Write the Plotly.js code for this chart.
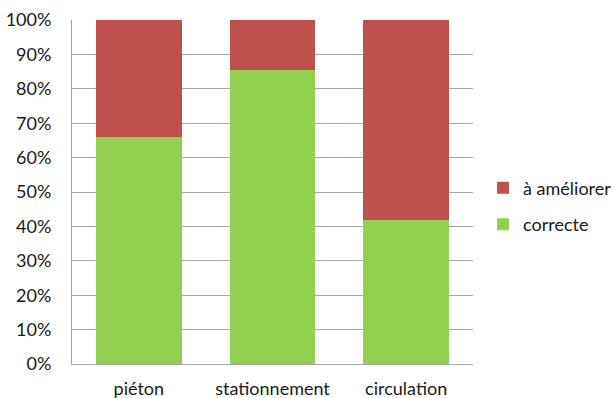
<!DOCTYPE html>
<html>
<head>
<meta charset="utf-8">
<script src="https://cdn.plot.ly/plotly-3.0.1.min.js"></script>
<style>
  html, body { margin: 0; padding: 0; background: #fff; }
  #chart { width: 614px; height: 398px; }
</style>
</head>
<body>
<div id="chart"></div>
<script>
// Categories and shares (in %) per assessment
const categories = ['piéton', 'stationnement', 'circulation'];
const correcte = [66, 85.5, 42];
const aAmeliorer = [34, 14.5, 58];
const yTicks = [0, 10, 20, 30, 40, 50, 60, 70, 80, 90, 100];

const fontFamily = 'Lato, "Liberation Sans", sans-serif';
const textColor = '#1a1a1a';
const gridColor = '#a6a6a6';

const traces = [
  {
    type: 'bar',
    name: 'correcte',
    x: categories,
    y: correcte,
    marker: { color: '#92D050' },
    legendgroup: 'g2',
    legendrank: 2,
    hoverinfo: 'skip'
  },
  {
    type: 'bar',
    name: 'à améliorer',
    x: categories,
    y: aAmeliorer,
    marker: { color: '#C0504D' },
    legendgroup: 'g1',
    legendrank: 1,
    hoverinfo: 'skip'
  }
];

const layout = {
  width: 614,
  height: 398,
  margin: { l: 72, r: 141, t: 20, b: 34, pad: 0, autoexpand: false },
  paper_bgcolor: '#ffffff',
  plot_bgcolor: '#ffffff',
  barmode: 'stack',
  bargap: 0.357,
  font: { family: fontFamily, size: 18, color: textColor },
  xaxis: {
    type: 'category',
    showgrid: false,
    showline: true,
    linecolor: gridColor,
    linewidth: 1,
    ticks: '',
    ticklabelstandoff: 8,
    tickfont: { family: fontFamily, size: 18, color: textColor }
  },
  yaxis: {
    range: [0, 100],
    tickvals: yTicks,
    ticktext: yTicks.map(v => v + '%'),
    showgrid: true,
    gridcolor: gridColor,
    gridwidth: 1,
    zeroline: false,
    showline: true,
    linecolor: gridColor,
    linewidth: 1,
    ticks: '',
    ticklabelstandoff: 16,
    tickfont: { family: fontFamily, size: 18, color: textColor }
  },
  legend: {
    x: 1.025,
    xanchor: 'left',
    y: 0.459,
    yanchor: 'middle',
    traceorder: 'grouped',
    tracegroupgap: 10,
    font: { family: fontFamily, size: 18, color: textColor },
    bgcolor: 'rgba(0,0,0,0)',
    itemwidth: 30
  },
  showlegend: true
};

Plotly.newPlot('chart', traces, layout, { displayModeBar: false, staticPlot: true });
</script>
</body>
</html>
